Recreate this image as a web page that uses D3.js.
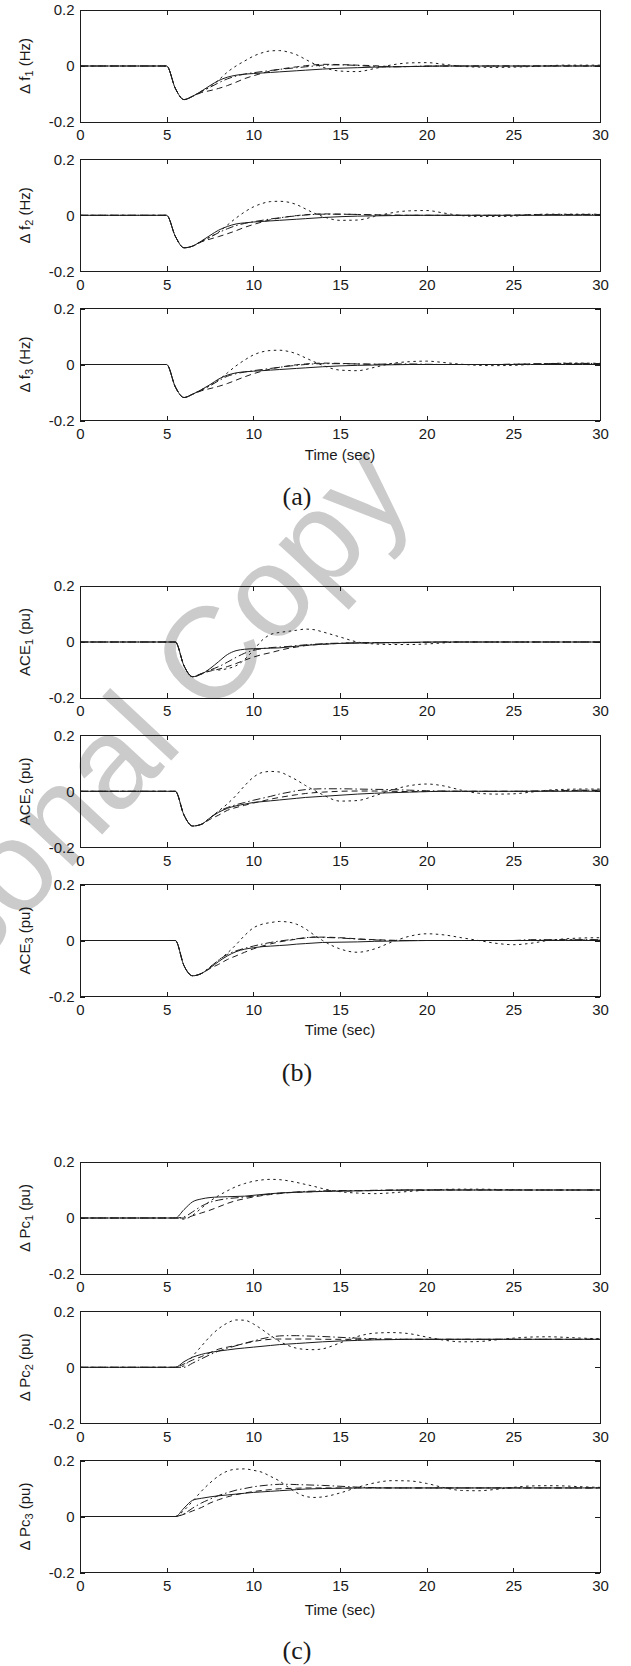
<!DOCTYPE html>
<html>
<head>
<meta charset="utf-8">
<script src="https://cdn.jsdelivr.net/npm/d3@7"></script>
<style>
  html, body { margin: 0; padding: 0; background: #fff; }
  svg { display: block; }
  text { font-family: "Liberation Sans", Arial, sans-serif; fill: #1a1a1a; }
</style>
</head>
<body>
<script>
/* global d3 */

// time grids (sec): panel group (a) starts at 5 s, groups (b) and (c) at 5.5 s
const timeA = [0, 5, 5.5, 6, 6.5, 7, 7.5, 8, 8.5, 9, 9.5, 10, 10.5, 11, 11.5, 12, 12.5, 13, 13.5, 14,
  15, 16, 17, 18, 19, 20, 21, 22, 23, 24, 25, 26, 27, 28, 29, 30];
const timeB = [0, 5.5, 6, 6.5, 7, 7.5, 8, 8.5, 9, 9.5, 10, 10.5, 11, 11.5, 12, 12.5, 13, 13.5, 14,
  15, 16, 17, 18, 19, 20, 21, 22, 23, 24, 25, 26, 27, 28, 29, 30];

const xTicks = [0, 5, 10, 15, 20, 25, 30];
const yTicks = [-0.2, 0, 0.2];

// (a) frequency deviations
const df1Solid = [0, 0, -0.08, -0.12, -0.108, -0.09, -0.07, -0.052, -0.04, -0.033, -0.029, -0.027, -0.025, -0.023, -0.021, -0.019, -0.017, -0.015, -0.013, -0.011, -0.008, -0.006, -0.004, -0.003, -0.002, -0.001, 0, 0, 0, 0, 0, 0, 0, 0, 0, 0];
const df1Dashed = [0, 0, -0.08, -0.12, -0.108, -0.095, -0.088, -0.08, -0.07, -0.058, -0.045, -0.035, -0.026, -0.018, -0.012, -0.007, -0.003, 0.001, 0.004, 0.006, 0.005, 0.003, 0.001, -0.002, -0.002, -0.001, 0, 0, 0, 0, 0, 0, 0, 0, 0, 0];
const df1DashDot = [0, 0, -0.08, -0.12, -0.108, -0.092, -0.076, -0.06, -0.046, -0.036, -0.029, -0.024, -0.02, -0.016, -0.012, -0.009, -0.006, -0.003, 0, 0.003, 0.004, 0.002, -0.002, -0.003, -0.002, 0, 0, 0, 0, 0, 0, 0, 0, 0, 0, 0];
const df1Dotted = [0, 0, -0.08, -0.12, -0.108, -0.09, -0.075, -0.05, -0.022, 0, 0.018, 0.035, 0.047, 0.054, 0.055, 0.05, 0.04, 0.024, 0.008, -0.004, -0.018, -0.02, -0.009, 0.004, 0.011, 0.012, 0.006, -0.001, -0.004, -0.005, -0.004, -0.002, 0.001, 0.003, 0.003, 0.003];

const df2Solid = [0, 0, -0.075, -0.116, -0.11, -0.092, -0.072, -0.053, -0.04, -0.031, -0.027, -0.024, -0.022, -0.02, -0.018, -0.016, -0.014, -0.012, -0.01, -0.008, -0.005, -0.003, -0.002, -0.001, 0, 0, 0, 0, 0, 0, 0, 0, 0, 0, 0, 0];
const df2Dashed = [0, 0, -0.075, -0.116, -0.11, -0.095, -0.085, -0.076, -0.066, -0.055, -0.043, -0.033, -0.024, -0.016, -0.01, -0.005, -0.001, 0.002, 0.004, 0.005, 0.004, 0.003, 0.002, 0.001, 0, 0, 0, 0, 0, 0, 0.001, 0.002, 0.002, 0.002, 0.002, 0.002];
const df2DashDot = [0, 0, -0.075, -0.116, -0.11, -0.094, -0.078, -0.062, -0.048, -0.037, -0.029, -0.023, -0.018, -0.013, -0.009, -0.005, -0.002, 0.001, 0.003, 0.004, 0.004, 0.003, 0.001, 0, 0, 0, 0, 0, 0, 0, 0, 0.001, 0.002, 0.003, 0.003, 0.003];
const df2Dotted = [0, 0, -0.075, -0.116, -0.11, -0.092, -0.078, -0.06, -0.035, -0.01, 0.012, 0.03, 0.042, 0.049, 0.05, 0.047, 0.038, 0.023, 0.008, -0.004, -0.018, -0.017, -0.004, 0.009, 0.016, 0.017, 0.008, -0.001, -0.004, -0.004, -0.003, 0.002, 0.004, 0.004, 0.004, 0.004];

const df3Solid = [0, 0, -0.08, -0.118, -0.106, -0.09, -0.072, -0.052, -0.038, -0.03, -0.026, -0.024, -0.022, -0.02, -0.018, -0.016, -0.014, -0.012, -0.01, -0.008, -0.005, -0.003, -0.002, -0.001, 0, 0, 0, 0, 0, 0, 0, 0, 0, 0, 0, 0];
const df3Dashed = [0, 0, -0.08, -0.118, -0.106, -0.094, -0.086, -0.078, -0.068, -0.056, -0.044, -0.033, -0.024, -0.016, -0.01, -0.005, -0.001, 0.002, 0.004, 0.005, 0.004, 0.002, 0.001, 0, 0, 0, 0, 0, 0, 0, 0.001, 0.002, 0.003, 0.003, 0.003, 0.003];
const df3DashDot = [0, 0, -0.08, -0.118, -0.106, -0.092, -0.076, -0.058, -0.042, -0.033, -0.027, -0.022, -0.018, -0.014, -0.01, -0.006, -0.003, 0, 0.002, 0.003, 0.003, 0.002, 0.001, 0.002, 0.002, 0.001, 0, 0, 0, 0, 0.001, 0.002, 0.003, 0.004, 0.004, 0.003];
const df3Dotted = [0, 0, -0.08, -0.118, -0.106, -0.09, -0.075, -0.055, -0.03, -0.005, 0.016, 0.034, 0.045, 0.05, 0.051, 0.047, 0.038, 0.024, 0.01, -0.003, -0.02, -0.022, -0.01, 0.004, 0.01, 0.012, 0.007, 0.001, -0.003, -0.004, -0.003, 0, 0.003, 0.005, 0.005, 0.004];

// (b) area control errors
const ace1Solid = [0, 0, -0.085, -0.124, -0.115, -0.095, -0.07, -0.045, -0.031, -0.026, -0.024, -0.023, -0.022, -0.021, -0.018, -0.015, -0.012, -0.01, -0.008, -0.005, -0.004, -0.003, -0.002, -0.001, 0, 0, 0, 0, 0, 0, 0, 0, 0, 0, 0];
const ace1Dashed = [0, 0, -0.085, -0.124, -0.113, -0.104, -0.097, -0.088, -0.077, -0.065, -0.054, -0.045, -0.038, -0.03, -0.023, -0.018, -0.013, -0.01, -0.008, -0.005, -0.003, -0.002, -0.002, -0.002, -0.001, 0, 0, 0, 0, 0, 0, 0, 0, 0, 0];
const ace1DashDot = [0, 0, -0.085, -0.124, -0.113, -0.1, -0.088, -0.072, -0.055, -0.04, -0.03, -0.024, -0.02, -0.018, -0.016, -0.013, -0.01, -0.008, -0.006, -0.004, -0.003, -0.003, -0.003, -0.002, -0.001, 0, 0, 0, 0, 0, 0, 0, 0, 0, 0];
const ace1Dotted = [0, 0, -0.085, -0.124, -0.115, -0.1, -0.1, -0.095, -0.085, -0.062, -0.03, 0.006, 0.027, 0.034, 0.038, 0.042, 0.046, 0.044, 0.036, 0.018, 0, -0.007, -0.009, -0.009, -0.007, -0.003, 0, 0, 0, 0, 0, 0, 0, 0, 0];

const ace2Solid = [0, 0, -0.085, -0.124, -0.118, -0.095, -0.075, -0.061, -0.052, -0.046, -0.04, -0.037, -0.034, -0.031, -0.028, -0.025, -0.022, -0.02, -0.018, -0.014, -0.01, -0.007, -0.005, -0.003, -0.001, 0, 0, 0, 0, 0, 0, 0, 0, 0, 0];
const ace2Dashed = [0, 0, -0.085, -0.124, -0.118, -0.1, -0.085, -0.068, -0.058, -0.05, -0.042, -0.035, -0.028, -0.022, -0.017, -0.012, -0.008, -0.005, -0.003, 0, 0.001, 0.001, 0, -0.001, -0.001, 0, 0, 0, 0, 0, 0, 0.001, 0.002, 0.003, 0.003];
const ace2DashDot = [0, 0, -0.085, -0.124, -0.118, -0.095, -0.072, -0.058, -0.048, -0.04, -0.032, -0.025, -0.018, -0.01, -0.004, 0.002, 0.006, 0.008, 0.009, 0.009, 0.008, 0.007, 0.006, 0.004, 0.002, 0.001, 0, 0, 0, 0, 0.001, 0.002, 0.003, 0.004, 0.004];
const ace2Dotted = [0, 0, -0.085, -0.124, -0.118, -0.095, -0.07, -0.045, -0.015, 0.02, 0.05, 0.067, 0.071, 0.069, 0.056, 0.04, 0.021, 0.004, -0.012, -0.035, -0.033, -0.016, 0.005, 0.02, 0.026, 0.019, 0.004, -0.007, -0.01, -0.009, -0.003, 0.004, 0.007, 0.008, 0.008];

const ace3Solid = [0, 0, -0.09, -0.126, -0.118, -0.098, -0.075, -0.055, -0.04, -0.031, -0.026, -0.022, -0.02, -0.018, -0.016, -0.013, -0.011, -0.009, -0.007, -0.006, -0.005, -0.003, -0.002, -0.001, 0, 0, 0, 0, 0, 0, 0, 0, 0, 0, 0];
const ace3Dashed = [0, 0, -0.09, -0.126, -0.118, -0.1, -0.085, -0.068, -0.055, -0.042, -0.03, -0.02, -0.012, -0.005, 0, 0.005, 0.009, 0.012, 0.012, 0.01, 0.006, 0.003, 0.001, 0, 0, 0, 0, 0, 0, 0, 0, 0.001, 0.002, 0.002, 0.002];
const ace3DashDot = [0, 0, -0.09, -0.126, -0.118, -0.095, -0.07, -0.05, -0.037, -0.028, -0.02, -0.013, -0.007, -0.002, 0.002, 0.006, 0.01, 0.012, 0.011, 0.009, 0.005, 0.002, 0, 0, 0, 0, 0, 0, 0, 0, 0.003, 0.003, 0.003, 0.003, 0.003];
const ace3Dotted = [0, 0, -0.09, -0.126, -0.118, -0.095, -0.07, -0.045, -0.015, 0.018, 0.045, 0.058, 0.064, 0.068, 0.066, 0.058, 0.042, 0.02, 0, -0.03, -0.042, -0.03, -0.005, 0.015, 0.024, 0.02, 0.01, 0, -0.01, -0.015, -0.01, 0, 0.006, 0.009, 0.01];

// (c) control power changes
const pc1Solid = [0, 0, 0.03, 0.058, 0.068, 0.073, 0.075, 0.076, 0.077, 0.078, 0.081, 0.084, 0.087, 0.089, 0.091, 0.092, 0.093, 0.094, 0.095, 0.096, 0.097, 0.098, 0.099, 0.1, 0.1, 0.1, 0.1, 0.1, 0.1, 0.1, 0.1, 0.1, 0.1, 0.1, 0.1];
const pc1Dashed = [0, 0, 0, 0.008, 0.018, 0.028, 0.04, 0.052, 0.062, 0.069, 0.075, 0.08, 0.084, 0.087, 0.09, 0.092, 0.093, 0.094, 0.095, 0.096, 0.097, 0.098, 0.099, 0.1, 0.1, 0.1, 0.1, 0.1, 0.1, 0.1, 0.1, 0.1, 0.1, 0.1, 0.1];
const pc1DashDot = [0, 0, 0.004, 0.022, 0.042, 0.056, 0.064, 0.069, 0.072, 0.075, 0.078, 0.082, 0.086, 0.089, 0.091, 0.093, 0.095, 0.096, 0.097, 0.098, 0.098, 0.099, 0.1, 0.1, 0.1, 0.1, 0.1, 0.1, 0.1, 0.1, 0.1, 0.1, 0.1, 0.1, 0.1];
const pc1Dotted = [0, 0, -0.004, 0.01, 0.035, 0.06, 0.08, 0.097, 0.112, 0.123, 0.131, 0.136, 0.138, 0.137, 0.133, 0.127, 0.12, 0.113, 0.105, 0.094, 0.089, 0.087, 0.09, 0.095, 0.099, 0.102, 0.103, 0.103, 0.102, 0.101, 0.1, 0.1, 0.1, 0.1, 0.1];

const pc2Solid = [0, 0, 0.02, 0.036, 0.046, 0.053, 0.058, 0.062, 0.066, 0.069, 0.072, 0.075, 0.078, 0.081, 0.083, 0.085, 0.087, 0.089, 0.091, 0.094, 0.096, 0.098, 0.099, 0.1, 0.1, 0.1, 0.1, 0.1, 0.1, 0.1, 0.1, 0.1, 0.1, 0.1, 0.1];
const pc2Dashed = [0, 0, 0.012, 0.026, 0.038, 0.052, 0.065, 0.072, 0.078, 0.085, 0.092, 0.097, 0.1, 0.101, 0.101, 0.101, 0.101, 0.101, 0.1, 0.1, 0.1, 0.1, 0.1, 0.1, 0.1, 0.1, 0.1, 0.1, 0.1, 0.1, 0.1, 0.1, 0.1, 0.1, 0.1];
const pc2DashDot = [0, 0, 0, 0.015, 0.03, 0.045, 0.058, 0.068, 0.077, 0.086, 0.094, 0.102, 0.108, 0.112, 0.113, 0.113, 0.112, 0.111, 0.11, 0.107, 0.104, 0.102, 0.101, 0.1, 0.1, 0.1, 0.1, 0.1, 0.1, 0.1, 0.1, 0.1, 0.1, 0.1, 0.1];
const pc2Dotted = [0, 0, 0.005, 0.04, 0.075, 0.11, 0.138, 0.158, 0.169, 0.168, 0.155, 0.135, 0.113, 0.093, 0.078, 0.068, 0.064, 0.063, 0.066, 0.087, 0.11, 0.122, 0.124, 0.12, 0.108, 0.097, 0.091, 0.092, 0.098, 0.104, 0.108, 0.109, 0.107, 0.104, 0.102];

const pc3Solid = [0, 0, 0.03, 0.058, 0.065, 0.07, 0.074, 0.077, 0.08, 0.083, 0.086, 0.088, 0.09, 0.092, 0.094, 0.096, 0.098, 0.099, 0.1, 0.101, 0.102, 0.102, 0.102, 0.102, 0.102, 0.102, 0.102, 0.102, 0.102, 0.102, 0.102, 0.102, 0.102, 0.102, 0.102];
const pc3Dashed = [0, 0, 0.008, 0.02, 0.032, 0.048, 0.06, 0.07, 0.078, 0.084, 0.089, 0.093, 0.096, 0.099, 0.1, 0.101, 0.102, 0.102, 0.102, 0.102, 0.102, 0.102, 0.102, 0.102, 0.102, 0.102, 0.102, 0.102, 0.102, 0.102, 0.102, 0.102, 0.102, 0.102, 0.102];
const pc3DashDot = [0, 0, 0.01, 0.03, 0.048, 0.062, 0.075, 0.085, 0.094, 0.1, 0.106, 0.11, 0.113, 0.115, 0.115, 0.114, 0.113, 0.112, 0.111, 0.108, 0.105, 0.103, 0.102, 0.102, 0.102, 0.102, 0.102, 0.102, 0.102, 0.102, 0.102, 0.102, 0.102, 0.102, 0.102];
const pc3Dotted = [0, 0, 0.022, 0.055, 0.09, 0.12, 0.145, 0.162, 0.169, 0.17, 0.165, 0.158, 0.143, 0.127, 0.105, 0.085, 0.072, 0.068, 0.07, 0.084, 0.104, 0.12, 0.128, 0.127, 0.118, 0.103, 0.093, 0.092, 0.097, 0.104, 0.109, 0.11, 0.109, 0.106, 0.104];

const yLabelMain = ['\u0394 f', '\u0394 f', '\u0394 f', 'ACE', 'ACE', 'ACE', '\u0394 Pc', '\u0394 Pc', '\u0394 Pc'];
const yLabelSub = ['1', '2', '3', '1', '2', '3', '1', '2', '3'];
const yLabelUnit = ['(Hz)', '(Hz)', '(Hz)', '(pu)', '(pu)', '(pu)', '(pu)', '(pu)', '(pu)'];
const xLabel = 'Time (sec)';
const captions = ['(a)', '(b)', '(c)'];

const panelSeries = [
  [df1Dotted, df1DashDot, df1Dashed, df1Solid],
  [df2Dotted, df2DashDot, df2Dashed, df2Solid],
  [df3Dotted, df3DashDot, df3Dashed, df3Solid],
  [ace1Dotted, ace1DashDot, ace1Dashed, ace1Solid],
  [ace2Dotted, ace2DashDot, ace2Dashed, ace2Solid],
  [ace3Dotted, ace3DashDot, ace3Dashed, ace3Solid],
  [pc1Dotted, pc1DashDot, pc1Dashed, pc1Solid],
  [pc2Dotted, pc2DashDot, pc2Dashed, pc2Solid],
  [pc3Dotted, pc3DashDot, pc3Dashed, pc3Solid],
];
// same order as the series above
const dashes = ['2.5,3.5', '8,3,1.5,3', '6,4', null];

// layout
const width = 631;
const height = 1666;
const left = 80;
const right = 600;
const plotH = 112;
const plotTops = [10, 159.3, 308.5];
const groupOffsets = [0, 576, 1152];
const timeLabelGap = [39.5, 38.5, 42.5];
const captionGap = [84.5, 84.3, 86];
const ink = '#1c1c1c';

const svg = d3.select('body')
  .append('svg')
  .attr('width', width)
  .attr('height', height);

// watermark sits under the plots
svg.append('text')
  .attr('transform', 'translate(-165,1121) rotate(-47)')
  .style('font-size', '130px')
  .style('fill', '#cbcbcb')
  .text('Personal Copy');

const x = d3.scaleLinear().domain([0, 30]).range([left, right]);

function styleAxis(g) {
  g.select('.domain').remove();
  g.selectAll('.tick line').attr('stroke', ink).attr('shape-rendering', 'crispEdges');
  g.selectAll('.tick text')
    .attr('fill', ink)
    .style('font-size', '15px')
    .style('font-family', '"Liberation Sans", Arial, sans-serif');
}

panelSeries.forEach((series, i) => {
  const grp = Math.floor(i / 3);
  const k = i % 3;
  const top = plotTops[k] + groupOffsets[grp];
  const bottom = top + plotH;
  const time = grp === 0 ? timeA : timeB;

  const y = d3.scaleLinear().domain([-0.2, 0.2]).range([bottom, top]);

  const line = d3.line()
    .x((d, j) => x(time[j]))
    .y((d) => y(d))
    .curve(d3.curveMonotoneX);

  series.forEach((vals, s) => {
    svg.append('path')
      .datum(vals)
      .attr('d', line)
      .attr('fill', 'none')
      .attr('stroke', ink)
      .attr('stroke-width', 1)
      .attr('stroke-dasharray', dashes[s]);
  });

  svg.append('rect')
    .attr('x', left)
    .attr('y', top)
    .attr('width', right - left)
    .attr('height', plotH)
    .attr('fill', 'none')
    .attr('stroke', ink)
    .attr('shape-rendering', 'crispEdges');

  svg.append('g')
    .attr('transform', `translate(0,${bottom})`)
    .call(d3.axisBottom(x).tickValues(xTicks).tickSize(-5).tickPadding(7.8)
      .tickFormat(d3.format('d')))
    .call(styleAxis);

  svg.append('g')
    .attr('transform', `translate(0,${top})`)
    .call(d3.axisTop(x).tickValues(xTicks).tickSize(-5).tickFormat(''))
    .call(styleAxis);

  svg.append('g')
    .attr('transform', `translate(${left},0)`)
    .call(d3.axisLeft(y).tickValues(yTicks).tickSize(-5).tickPadding(5.5)
      .tickFormat((d) => (d === 0 ? '0' : String(d))))
    .call(styleAxis);

  svg.append('g')
    .attr('transform', `translate(${right},0)`)
    .call(d3.axisRight(y).tickValues(yTicks).tickSize(-5).tickFormat(''))
    .call(styleAxis);

  const label = svg.append('text')
    .attr('transform', `translate(29.5,${top + plotH / 2}) rotate(-90)`)
    .attr('text-anchor', 'middle')
    .style('font-size', '15px');
  label.append('tspan').text(yLabelMain[i]);
  label.append('tspan').attr('dy', 3.5).style('font-size', '11px').text(yLabelSub[i]);
  label.append('tspan').attr('dy', -3.5).text(` ${yLabelUnit[i]}`);

  if (k === 2) {
    svg.append('text')
      .attr('x', (left + right) / 2)
      .attr('y', bottom + timeLabelGap[grp])
      .attr('text-anchor', 'middle')
      .style('font-size', '15px')
      .text(xLabel);

    svg.append('text')
      .attr('x', 297)
      .attr('y', bottom + captionGap[grp])
      .attr('text-anchor', 'middle')
      .style('font-family', '"Liberation Serif", "Times New Roman", serif')
      .style('font-size', '26px')
      .text(captions[grp]);
  }
});
</script>
</body>
</html>
